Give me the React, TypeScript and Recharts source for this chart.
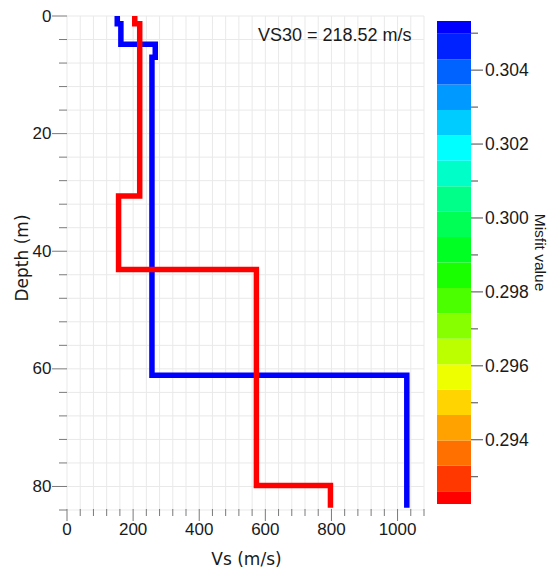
import { ComposedChart, BarChart, Bar, Line, XAxis, YAxis, CartesianGrid } from "recharts";

// ─── Data ─────────────────────────────────────────────────────────────────────

// Best-fit (blue) and alternate (red) Vs profiles, as step points (Vs m/s, depth m)
const blueProfile = [
  { vs: 152, depth: 0 }, { vs: 152, depth: 1.3 },
  { vs: 163, depth: 1.3 }, { vs: 163, depth: 4.8 },
  { vs: 267, depth: 4.8 }, { vs: 267, depth: 7.0 },
  { vs: 257, depth: 7.0 }, { vs: 257, depth: 61.1 },
  { vs: 1028, depth: 61.1 }, { vs: 1028, depth: 83.6 },
];

const redProfile = [
  { vs: 205, depth: 0 }, { vs: 205, depth: 1.3 },
  { vs: 220, depth: 1.3 }, { vs: 220, depth: 30.6 },
  { vs: 156, depth: 30.6 }, { vs: 156, depth: 43.1 },
  { vs: 573, depth: 43.1 }, { vs: 573, depth: 79.85 },
  { vs: 797, depth: 79.85 }, { vs: 797, depth: 83.6 },
];

const vsTicks = [
  0, 40, 80, 120, 160, 200, 240, 280, 320, 360, 400, 440, 480, 520,
  560, 600, 640, 680, 720, 760, 800, 840, 880, 920, 960, 1000, 1040, 1080,
];
const depthTicks = [
  0, 4, 8, 12, 16, 20, 24, 28, 32, 36, 40, 44, 48, 52, 56, 60, 64, 68, 72, 76, 80, 84,
];

// Colour scale: misfit range and discrete colours from low (red) to high (blue)
const misfitMin = 0.29226;
const misfitMax = 0.30533;
const misfitColors = [
  "#ff0000", "#ff3800", "#ff7000", "#ffa200", "#ffd400", "#eeff00", "#bbff00",
  "#88ff00", "#4cff00", "#1aff00", "#00ff22", "#00ff55", "#00ff88", "#00ffc8",
  "#00ffff", "#00ccff", "#0099ff", "#0062ff", "#0022ff", "#0000ff",
];
const misfitTicks = [
  0.293, 0.294, 0.295, 0.296, 0.297, 0.298, 0.299, 0.3, 0.301, 0.302, 0.303, 0.304, 0.305,
];

const VS30_TEXT = "VS30 = 218.52 m/s";

// ─── Helpers ──────────────────────────────────────────────────────────────────

const TICK_FONT = "'Liberation Sans', Arial, sans-serif";
const TITLE_FONT = "'DejaVu Sans', Verdana, sans-serif";
const TICK_STROKE = "#7a7a7a";

// One stacked column: each colour band is a segment of equal misfit width,
// half-width bands at both ends (the first segment starts from 0 and is clipped).
function colorBarRow() {
  const step = (misfitMax - misfitMin) / (misfitColors.length - 1);
  const row: Record<string, number | string> = { key: "misfit" };
  misfitColors.forEach((_, i) => {
    const lo = Math.max(misfitMin, misfitMin + (i - 0.5) * step);
    const hi = Math.min(misfitMax, misfitMin + (i + 0.5) * step);
    row[`b${i}`] = i === 0 ? hi : hi - lo;
  });
  return [row];
}

function VsTick({ x, y, payload }: any) {
  const major = payload.value % 200 === 0;
  return (
    <g>
      <line x1={x} y1={y - 1} x2={x} y2={y + (major ? 11 : 6)} stroke={TICK_STROKE} />
      {major && (
        <text x={x} y={y + 19} textAnchor="middle" dominantBaseline="central"
          style={{ fontFamily: TICK_FONT, fontSize: 17, fill: "#1a1a1a" }}>
          {payload.value}
        </text>
      )}
    </g>
  );
}

function DepthTick({ x, y, payload }: any) {
  const major = payload.value % 20 === 0;
  return (
    <g>
      <line x1={x - (major ? 15 : 8)} y1={y} x2={x} y2={y} stroke={TICK_STROKE} />
      {major && (
        <text x={x - 15.5} y={y} textAnchor="end" dominantBaseline="central"
          style={{ fontFamily: TICK_FONT, fontSize: 17, fill: "#1a1a1a" }}>
          {payload.value}
        </text>
      )}
    </g>
  );
}

function MisfitTick({ x, y, payload }: any) {
  const major = Math.round(payload.value * 1000) % 2 === 0;
  return (
    <g>
      <line x1={x} y1={y} x2={x + (major ? 12 : 7)} y2={y} stroke="#666" strokeWidth={1.2} />
      {major && (
        <text x={x + 14} y={y} textAnchor="start" dominantBaseline="central"
          style={{ fontFamily: TICK_FONT, fontSize: 17.5, fill: "#1a1a1a" }}>
          {payload.value.toFixed(3)}
        </text>
      )}
    </g>
  );
}

// ─── Component ────────────────────────────────────────────────────────────────

export default function App() {
  const barData = colorBarRow();

  return (
    <div style={{ position: "absolute", left: 0, top: 0, width: 553, height: 571, background: "#fff" }}>
      <div style={{ position: "absolute", left: 0, top: 0 }}>
        <ComposedChart width={553} height={571} margin={{ top: 16, right: 129, left: 7, bottom: 0 }}>
          <CartesianGrid stroke="#e9e9e9" />
          <XAxis
            dataKey="vs"
            type="number"
            domain={[0, 1080]}
            ticks={vsTicks}
            interval={0}
            height={61}
            tickSize={0}
            tickMargin={0}
            tickLine={false}
            axisLine={false}
            tick={(p: any) => <VsTick {...p} />}
            label={(p: any) => {
              const vb = p.viewBox;
              return (
                <text x={vb.x + vb.width / 2 + 1} y={565} textAnchor="middle"
                  style={{ fontFamily: TITLE_FONT, fontSize: 17, fill: "#1a1a1a" }}>
                  Vs (m/s)
                </text>
              );
            }}
          />
          <YAxis
            dataKey="depth"
            type="number"
            domain={[0, 84]}
            reversed
            ticks={depthTicks}
            interval={0}
            width={60}
            tickSize={0}
            tickMargin={0}
            tickLine={false}
            axisLine={false}
            tick={(p: any) => <DepthTick {...p} />}
            label={(p: any) => {
              const vb = p.viewBox;
              const cx = vb.x + 15;
              const cy = vb.y + vb.height / 2 - 5;
              return (
                <text x={cx} y={cy} transform={`rotate(-90 ${cx} ${cy})`} textAnchor="middle" dominantBaseline="central"
                  style={{ fontFamily: TITLE_FONT, fontSize: 17, fill: "#1a1a1a" }}>
                  Depth (m)
                </text>
              );
            }}
          />
          <Line data={blueProfile} dataKey="depth" type="linear" stroke="#0000ff" strokeWidth={5.5}
            strokeLinejoin="miter" dot={false} activeDot={false} isAnimationActive={false} />
          <Line data={redProfile} dataKey="depth" type="linear" stroke="#ff0000" strokeWidth={5.5}
            strokeLinejoin="miter" dot={false} activeDot={false} isAnimationActive={false} />
        </ComposedChart>
      </div>

      <div style={{
        position: "absolute", left: 258, top: 26, lineHeight: "18px",
        fontFamily: TICK_FONT, fontSize: 18, color: "#1a1a1a", whiteSpace: "nowrap",
      }}>
        {VS30_TEXT}
      </div>

      <div style={{ position: "absolute", left: 0, top: 0 }}>
        <BarChart width={553} height={571} data={barData} barCategoryGap={0}
          margin={{ top: 21, right: 0, left: 437, bottom: 67 }}>
          <XAxis dataKey="key" type="category" hide />
          <YAxis
            type="number"
            orientation="right"
            domain={[misfitMin, misfitMax]}
            allowDataOverflow
            ticks={misfitTicks}
            interval={0}
            width={82}
            tickSize={0}
            tickMargin={0}
            tickLine={false}
            axisLine={false}
            tick={(p: any) => <MisfitTick {...p} />}
            label={(p: any) => {
              const vb = p.viewBox;
              const cx = vb.x + 69;
              const cy = vb.y + vb.height / 2 - 10;
              return (
                <text x={cx} y={cy} transform={`rotate(90 ${cx} ${cy})`} textAnchor="middle" dominantBaseline="central"
                  style={{ fontFamily: TICK_FONT, fontSize: 15.5, fill: "#1a1a1a" }}>
                  Misfit value
                </text>
              );
            }}
          />
          {misfitColors.map((c, i) => (
            <Bar key={i} dataKey={`b${i}`} stackId="cb" fill={c} isAnimationActive={false} />
          ))}
        </BarChart>
      </div>
    </div>
  );
}
